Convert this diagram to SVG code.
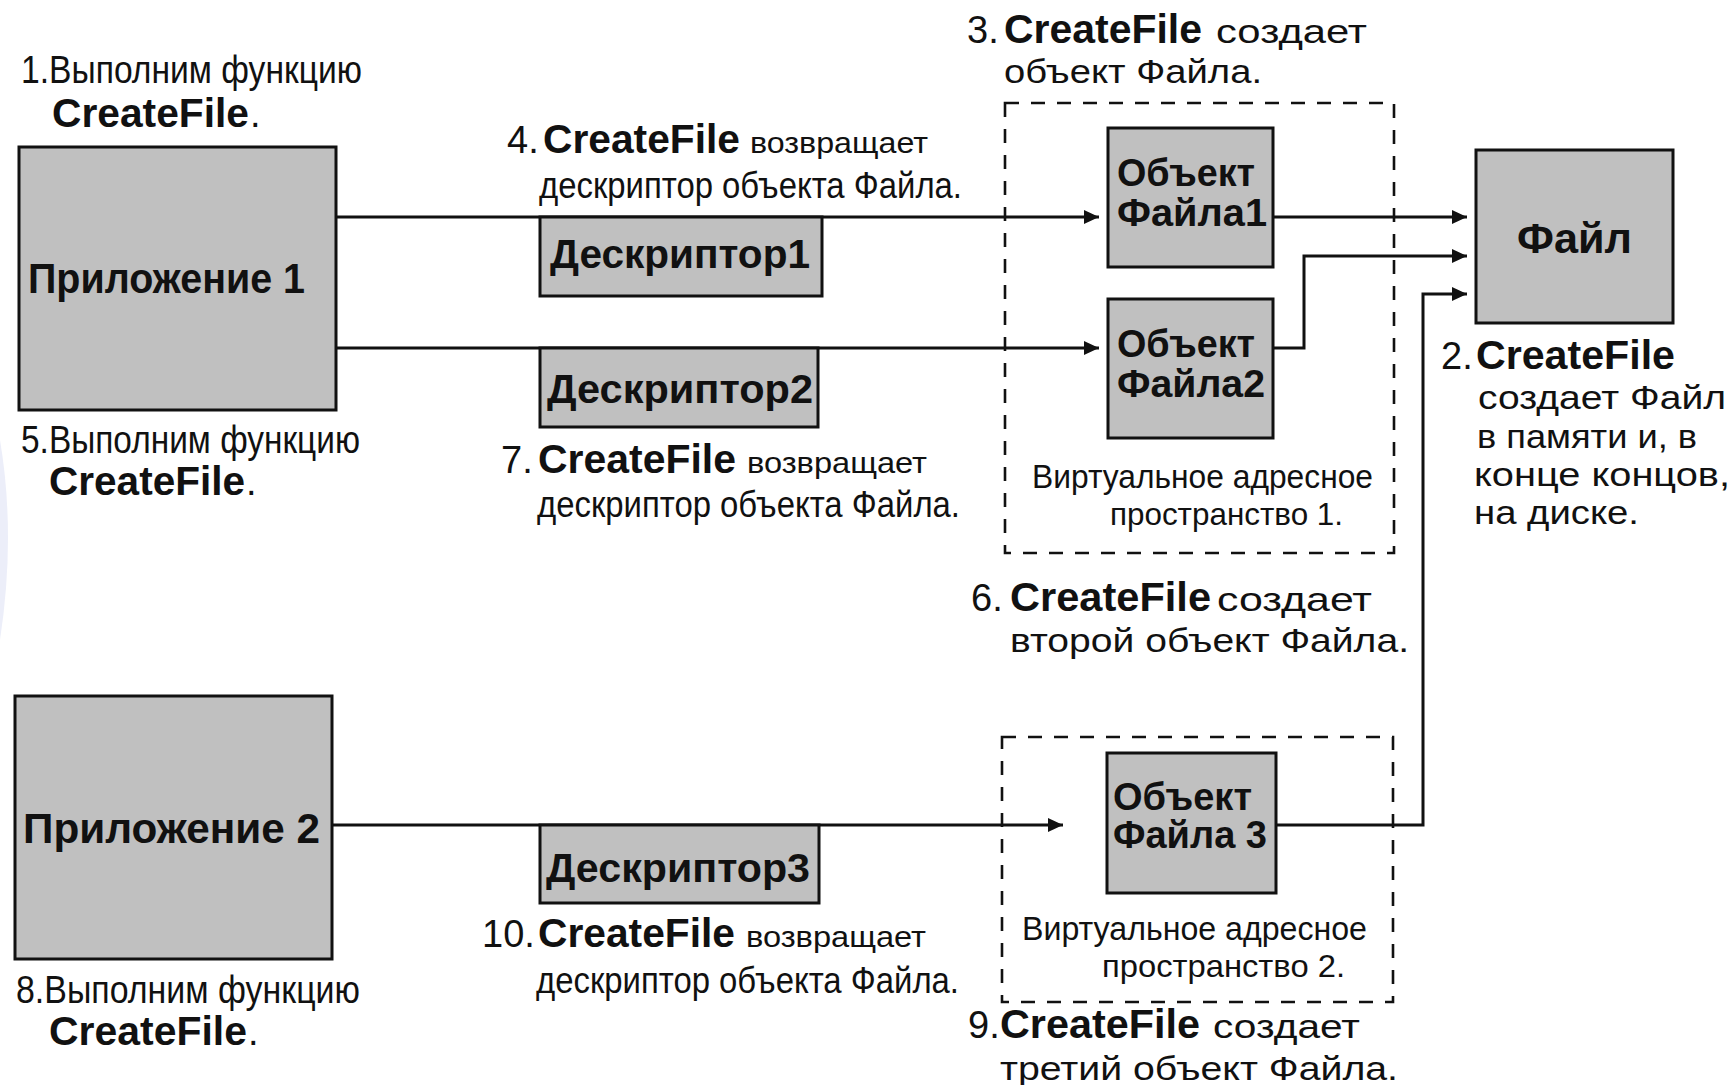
<svg xmlns="http://www.w3.org/2000/svg" width="1733" height="1085" viewBox="0 0 1733 1085">
<style>
text{font-family:"Liberation Sans",Arial,sans-serif;fill:#111}
.r{font-size:38px}
.s{font-size:34px}
.v{font-size:30px}
.b{font-size:40px;font-weight:700}
.n{font-size:40px;font-weight:700}
.a{font-size:42px;font-weight:700}
.box{fill:#c0c0c0;stroke:#111;stroke-width:3}
.vas{fill:none;stroke:#111;stroke-width:2.6;stroke-dasharray:14 12}
.conn{fill:none;stroke:#111;stroke-width:3}
</style>
<defs>
<marker id="arr" markerUnits="userSpaceOnUse" markerWidth="18" markerHeight="16" refX="15" refY="7" orient="auto">
<path d="M0,0 L15,7 L0,14 Z" fill="#111"/>
</marker>
</defs>
<rect width="1733" height="1085" fill="#fff"/>
<path d="M0,440 Q16,535 0,640 Z" fill="#eceef9"/>

<g id="vas1">
<rect class="vas" x="1005" y="103" width="389" height="450"/>
<text class="r" x="1032" y="488" textLength="341" lengthAdjust="spacingAndGlyphs" style="font-size:34px">Виртуальное адресное</text>
<text class="s" x="1110" y="525" textLength="233" lengthAdjust="spacingAndGlyphs" style="font-size:32px">пространство 1.</text>
</g>
<g id="vas2">
<rect class="vas" x="1002" y="737" width="391" height="265"/>
<text class="r" x="1022" y="940" textLength="345" lengthAdjust="spacingAndGlyphs" style="font-size:34px">Виртуальное адресное</text>
<text class="s" x="1102" y="977" textLength="243" lengthAdjust="spacingAndGlyphs" style="font-size:32px">пространство 2.</text>
</g>

<g id="connectors">
<path class="conn" d="M336,217 H1099" marker-end="url(#arr)"/>
<path class="conn" d="M336,348 H1099" marker-end="url(#arr)"/>
<path class="conn" d="M332,825 H1063" marker-end="url(#arr)"/>
<path class="conn" d="M1274,217 H1467" marker-end="url(#arr)"/>
<path class="conn" d="M1274,348 H1304 V256 H1467" marker-end="url(#arr)"/>
<path class="conn" d="M1277,825 H1423 V294 H1467" marker-end="url(#arr)"/>
</g>

<g id="app1">
<rect class="box" x="19" y="147" width="317" height="263"/>
<text class="a" x="28" y="293" textLength="277" lengthAdjust="spacingAndGlyphs">Приложение 1</text>
</g>
<g id="app2">
<rect class="box" x="15" y="696" width="317" height="263"/>
<text class="a" x="23" y="843" textLength="297" lengthAdjust="spacingAndGlyphs">Приложение 2</text>
</g>
<g id="desc1">
<rect class="box" x="540" y="217" width="282" height="79"/>
<text class="n" x="550" y="268" textLength="260" lengthAdjust="spacingAndGlyphs">Дескриптор1</text>
</g>
<g id="desc2">
<rect class="box" x="540" y="348" width="278" height="79"/>
<text class="n" x="547" y="403" textLength="266" lengthAdjust="spacingAndGlyphs">Дескриптор2</text>
</g>
<g id="desc3">
<rect class="box" x="540" y="825" width="279" height="78"/>
<text class="n" x="546" y="882" textLength="264" lengthAdjust="spacingAndGlyphs">Дескриптор3</text>
</g>
<g id="obj1">
<rect class="box" x="1108" y="128" width="165" height="139"/>
<text class="n" x="1117" y="186" textLength="138" lengthAdjust="spacingAndGlyphs" style="font-size:38px">Объект</text>
<text class="n" x="1117" y="226" textLength="150" lengthAdjust="spacingAndGlyphs" style="font-size:38px">Файла1</text>
</g>
<g id="obj2">
<rect class="box" x="1108" y="299" width="165" height="139"/>
<text class="n" x="1117" y="357" textLength="138" lengthAdjust="spacingAndGlyphs" style="font-size:38px">Объект</text>
<text class="n" x="1117" y="397" textLength="148" lengthAdjust="spacingAndGlyphs" style="font-size:38px">Файла2</text>
</g>
<g id="obj3">
<rect class="box" x="1107" y="753" width="169" height="140"/>
<text class="n" x="1113" y="810" textLength="139" lengthAdjust="spacingAndGlyphs" style="font-size:38px">Объект</text>
<text class="n" x="1113" y="848" textLength="154" lengthAdjust="spacingAndGlyphs" style="font-size:38px">Файла 3</text>
</g>
<g id="file">
<rect class="box" x="1476" y="150" width="197" height="173"/>
<text class="a" x="1517" y="253" textLength="115" lengthAdjust="spacingAndGlyphs">Файл</text>
</g>

<g id="note1">
<text class="r" x="21" y="83" textLength="341" lengthAdjust="spacingAndGlyphs">1.Выполним функцию</text>
<text class="b" x="52" y="127" textLength="197" lengthAdjust="spacingAndGlyphs">CreateFile</text>
<text class="r" x="250" y="127">.</text>
</g>
<g id="note2">
<text class="r" x="1441" y="369">2.</text>
<text class="b" x="1476" y="369" textLength="199" lengthAdjust="spacingAndGlyphs">CreateFile</text>
<text class="s" x="1478" y="409" textLength="248" lengthAdjust="spacingAndGlyphs">создает Файл</text>
<text class="s" x="1477" y="448" textLength="220" lengthAdjust="spacingAndGlyphs">в памяти и, в</text>
<text class="s" x="1474" y="486" textLength="256" lengthAdjust="spacingAndGlyphs">конце  концов,</text>
<text class="s" x="1474" y="524" textLength="165" lengthAdjust="spacingAndGlyphs">на диске.</text>
</g>
<g id="note3">
<text class="r" x="967" y="43">3.</text>
<text class="b" x="1004" y="43" textLength="198" lengthAdjust="spacingAndGlyphs">CreateFile</text>
<text class="s" x="1216" y="43" textLength="151" lengthAdjust="spacingAndGlyphs">создает</text>
<text class="s" x="1004" y="83" textLength="258" lengthAdjust="spacingAndGlyphs">объект Файла.</text>
</g>
<g id="note4">
<text class="r" x="507" y="153">4.</text>
<text class="b" x="543" y="153" textLength="197" lengthAdjust="spacingAndGlyphs">CreateFile</text>
<text class="v" x="750" y="153" textLength="178" lengthAdjust="spacingAndGlyphs">возвращает</text>
<text class="r" x="539" y="198" textLength="423" lengthAdjust="spacingAndGlyphs" style="font-size:36px">дескриптор объекта Файла.</text>
</g>
<g id="note5">
<text class="r" x="21" y="453" textLength="339" lengthAdjust="spacingAndGlyphs">5.Выполним функцию</text>
<text class="b" x="49" y="495" textLength="196" lengthAdjust="spacingAndGlyphs">CreateFile</text>
<text class="r" x="246" y="495">.</text>
</g>
<g id="note6">
<text class="r" x="971" y="611">6.</text>
<text class="b" x="1010" y="611" textLength="201" lengthAdjust="spacingAndGlyphs">CreateFile</text>
<text class="s" x="1217" y="611" textLength="155" lengthAdjust="spacingAndGlyphs">создает</text>
<text class="s" x="1010" y="652" textLength="399" lengthAdjust="spacingAndGlyphs">второй  объект Файла.</text>
</g>
<g id="note7">
<text class="r" x="501" y="473">7.</text>
<text class="b" x="538" y="473" textLength="198" lengthAdjust="spacingAndGlyphs">CreateFile</text>
<text class="v" x="747" y="473" textLength="180" lengthAdjust="spacingAndGlyphs">возвращает</text>
<text class="r" x="537" y="517" textLength="423" lengthAdjust="spacingAndGlyphs" style="font-size:36px">дескриптор объекта Файла.</text>
</g>
<g id="note8">
<text class="r" x="16" y="1003" textLength="344" lengthAdjust="spacingAndGlyphs">8.Выполним функцию</text>
<text class="b" x="49" y="1045" textLength="198" lengthAdjust="spacingAndGlyphs">CreateFile</text>
<text class="r" x="248" y="1045">.</text>
</g>
<g id="note9">
<text class="r" x="968" y="1038">9.</text>
<text class="b" x="1000" y="1038" textLength="200" lengthAdjust="spacingAndGlyphs">CreateFile</text>
<text class="s" x="1213" y="1038" textLength="147" lengthAdjust="spacingAndGlyphs">создает</text>
<text class="s" x="1000" y="1080" textLength="398" lengthAdjust="spacingAndGlyphs">третий объект Файла.</text>
</g>
<g id="note10">
<text class="r" x="482" y="947">10.</text>
<text class="b" x="538" y="947" textLength="197" lengthAdjust="spacingAndGlyphs">CreateFile</text>
<text class="v" x="746" y="947" textLength="180" lengthAdjust="spacingAndGlyphs">возвращает</text>
<text class="r" x="536" y="993" textLength="423" lengthAdjust="spacingAndGlyphs" style="font-size:36px">дескриптор объекта Файла.</text>
</g>
</svg>
